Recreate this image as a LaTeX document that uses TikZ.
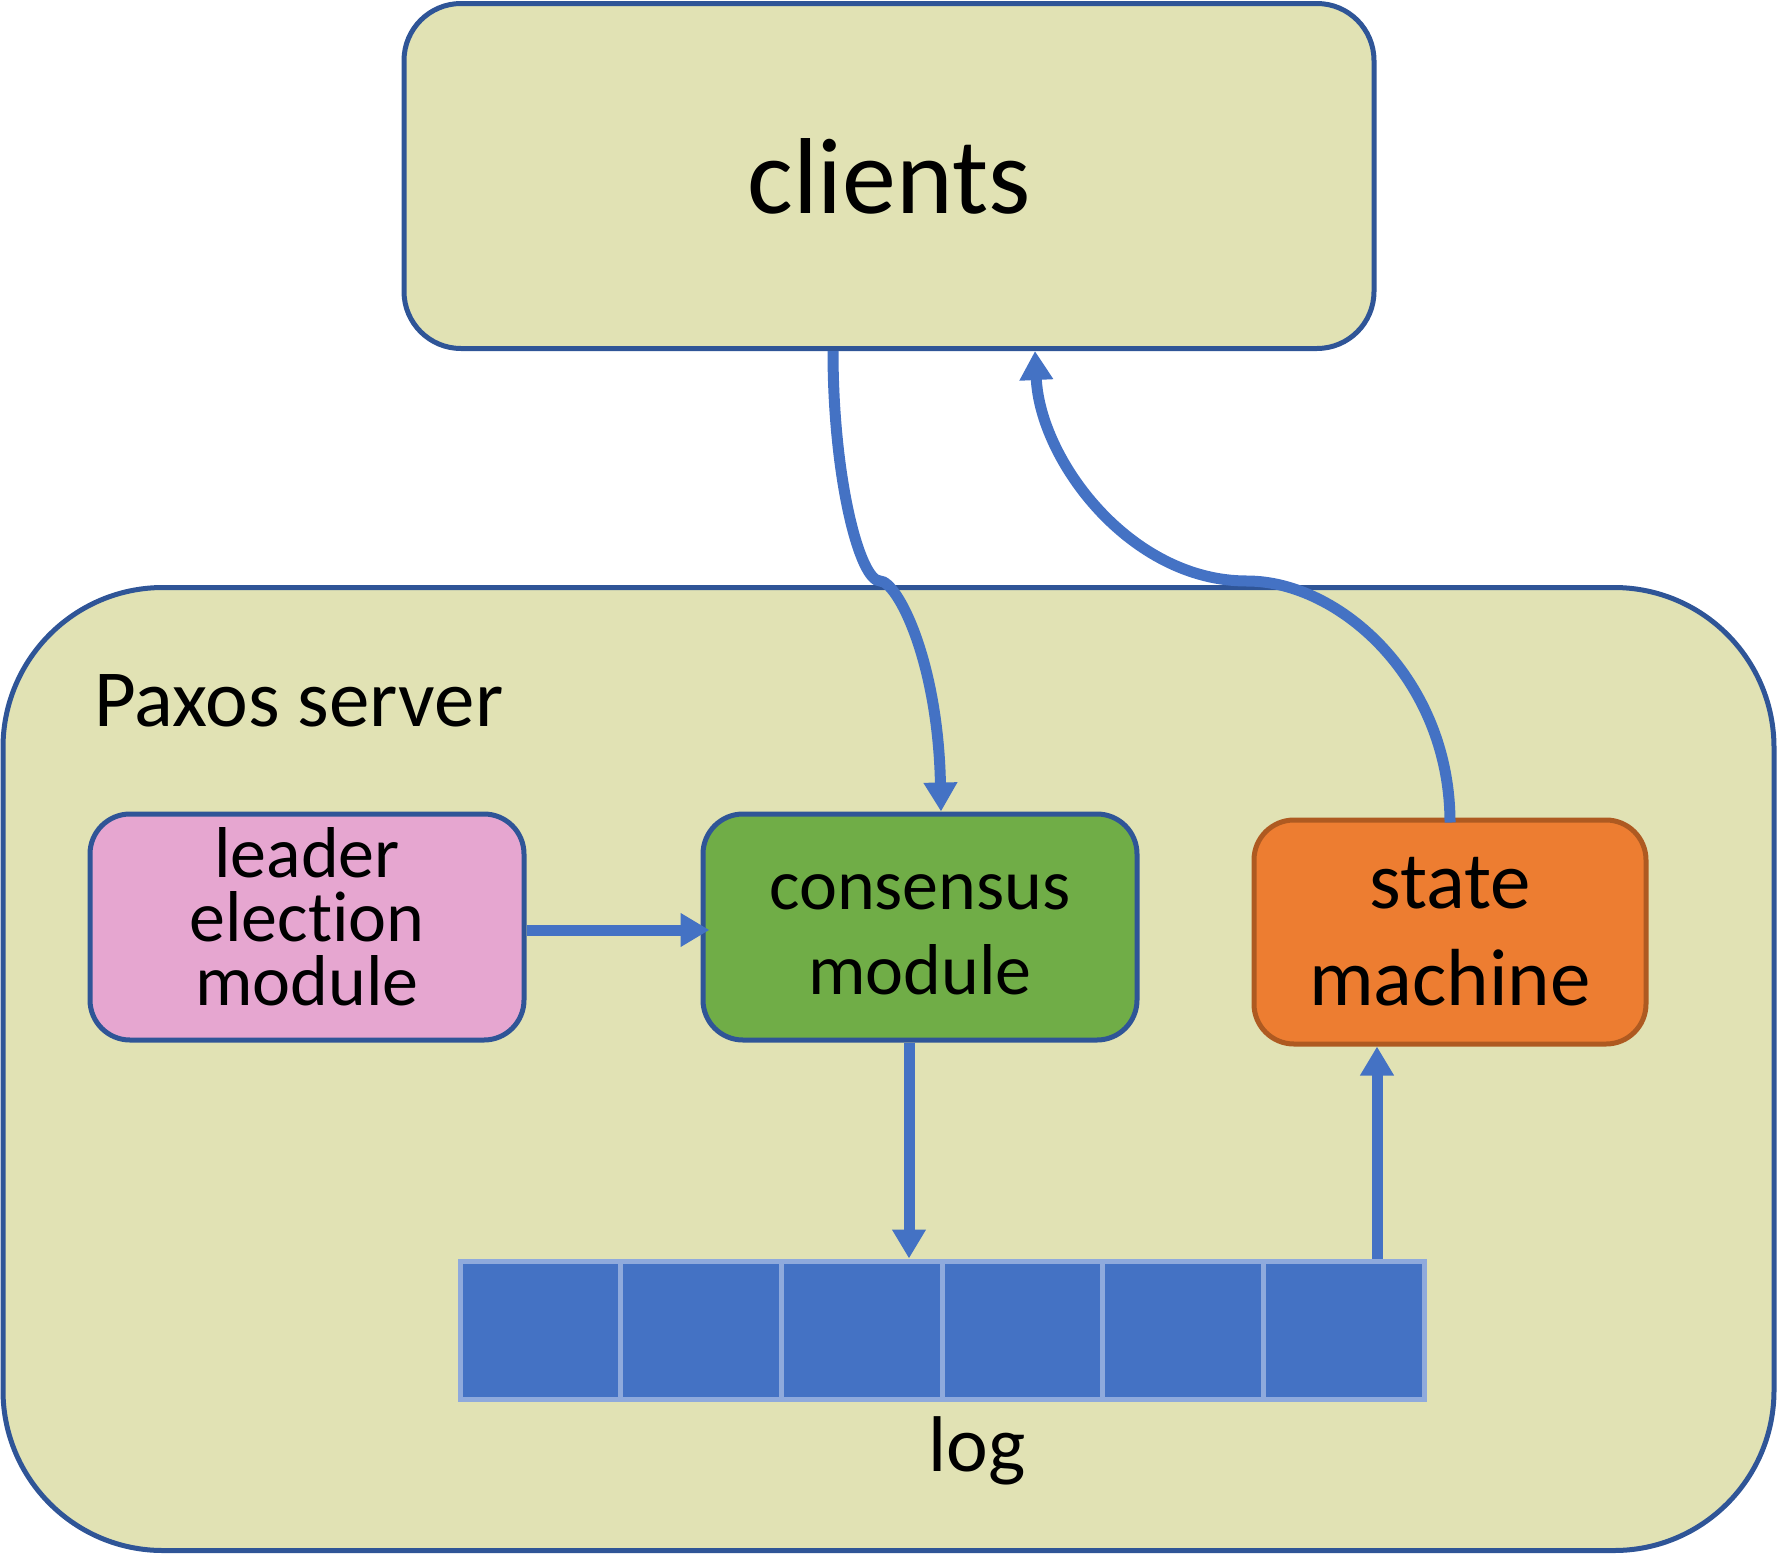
\documentclass[tikz,border=0pt]{standalone}
\usepackage{fontspec}
\setmainfont[Ligatures=NoCommon]{Carlito}
\usetikzlibrary{arrows.meta}
\definecolor{olivefill}{RGB}{225,226,180}
\definecolor{darkedge}{RGB}{47,85,151}
\definecolor{lineblue}{RGB}{68,114,196}
\definecolor{pinkfill}{RGB}{230,166,208}
\definecolor{greenfill}{RGB}{112,173,71}
\definecolor{orangefill}{RGB}{237,125,49}
\definecolor{orangeedge}{RGB}{174,90,33}
\definecolor{celledge}{RGB}{143,170,220}
\tikzset{
  box/.style={rectangle, draw=darkedge, line width=5pt, align=center, inner sep=0pt},
  txt/.style={inner sep=0pt, align=center},
  cellbox/.style={rectangle, draw=celledge, fill=lineblue, line width=5pt, minimum width=160.67pt, minimum height=138pt, inner sep=0pt},
  arr/.style={draw=lineblue, line width=11pt, -{Triangle[length=29pt,width=32pt]}}
}
\begin{document}
\begin{tikzpicture}[x=1pt,y=-1pt]
\useasboundingbox (0,0) rectangle (1778,1556);
% containers
\node[box, fill=olivefill, rounded corners=57pt, minimum width=970pt, minimum height=345pt,
      font=\fontsize{108}{130}\selectfont] (clients) at (889,176) {clients};
\node[box, fill=olivefill, rounded corners=160pt, minimum width=1771pt, minimum height=963pt] (server) at (888.5,1069) {};
\node[anchor=base west, inner sep=0pt, font=\fontsize{81}{97}\selectfont] (servername) at (94,726) {Paxos server};
% modules
\node[box, fill=pinkfill, rounded corners=40pt, minimum width=434pt, minimum height=226pt] (leader) at (307,927) {};
\node[txt, font=\fontsize{72}{64}\selectfont] (leadertext) at ([yshift=10pt]leader.center) {leader\\election\\module};
\node[box, fill=greenfill, rounded corners=40pt, minimum width=434pt, minimum height=226pt] (consensus) at (920,927) {};
\node[txt, font=\fontsize{72}{85}\selectfont] (consensustext) at ([yshift=-8pt]consensus.center) {consensus\\module};
\node[box, draw=orangeedge, fill=orangefill, rounded corners=40pt, minimum width=392pt, minimum height=224pt,
      font=\fontsize{81}{97}\selectfont] (state) at (1450,932) {state\\machine};
% log
\node[cellbox] (c1) at (540.33,1330) {};
\node[cellbox] (c2) at (701,1330) {};
\node[cellbox] (c3) at (861.67,1330) {};
\node[cellbox] (c4) at (1022.33,1330) {};
\node[cellbox] (c5) at (1183,1330) {};
\node[cellbox] (c6) at (1343.67,1330) {};
\node[txt, font=\fontsize{79}{95}\selectfont] (loglabel) at (977,1451) {log};
% connectors
\draw[arr] ([yshift=-3pt]leader.east) -- ([xshift=9pt,yshift=-3pt]consensus.west);
\draw[arr] ([xshift=-11pt]consensus.south) -- ([xshift=-11pt]consensus.south |- c3.north);
\draw[arr] ([xshift=-73pt]state.south |- c6.north) -- ([xshift=-73pt]state.south);
\coordinate (k1) at (880,581);
\coordinate (k2) at (1247,581);
\draw[arr] ([xshift=-56pt]clients.south) .. controls (833,480) and (860,581) .. (k1)
   .. controls (897,581) and (938,660) .. ([xshift=21pt]consensus.north);
\draw[arr] ([yshift=-5pt]state.north) .. controls (1450,680) and (1340,581) .. (k2)
   .. controls (1130,581) and (1040,460) .. ([xshift=146pt]clients.south);
\end{tikzpicture}
\end{document}
